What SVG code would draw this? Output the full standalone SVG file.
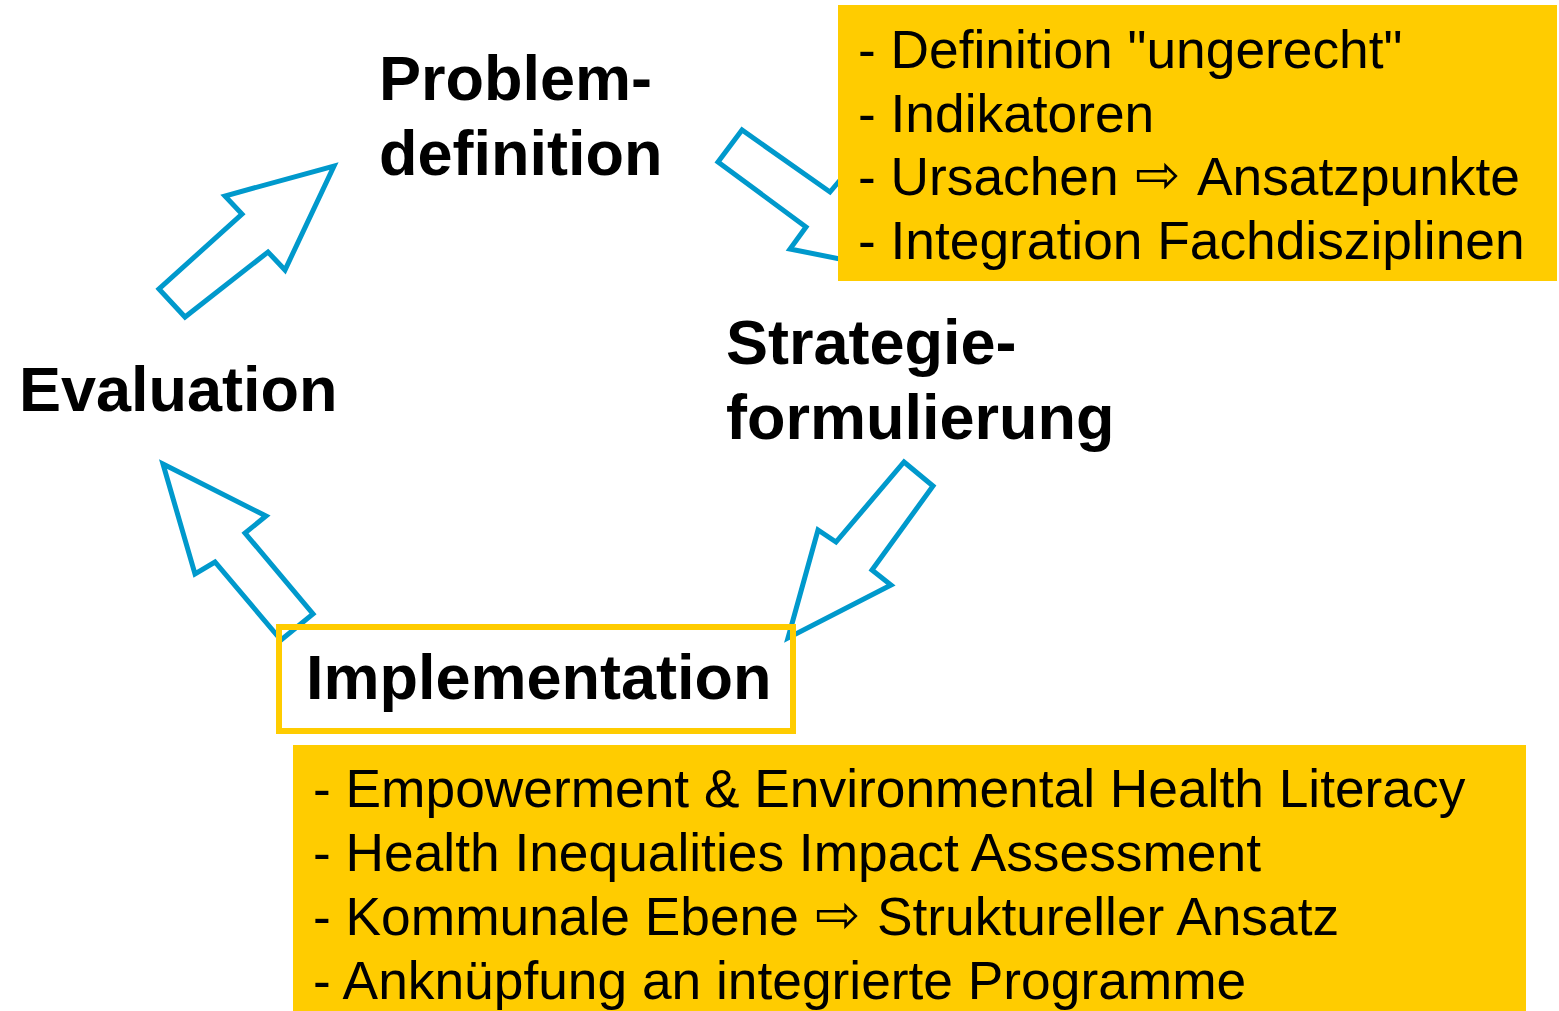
<svg xmlns="http://www.w3.org/2000/svg" width="1559" height="1011" viewBox="0 0 1559 1011">
<style>
.arrow{fill:#fff;stroke:#0099cc;stroke-width:5;stroke-linejoin:miter}
.lbl{font-family:"Liberation Sans",Arial,sans-serif;font-weight:bold;font-size:63px;fill:#000}
.note{fill:#ffcc00}
.nt{font-family:"Liberation Sans",Arial,sans-serif;font-size:53.3px;fill:#000}
.sym{font-family:"DejaVu Sans",sans-serif;font-size:54px}
</style>
<rect width="1559" height="1011" fill="#fff"/>
<g id="connectors">
<polygon class="arrow" points="742,130 718,162 806,227 790,249 905,272 852,166 830,192"/>
<polygon class="arrow" points="159,289 185,317 268,252 285,270 334,166 225,196 242,214"/>
<polygon class="arrow" points="904,462 933,486 872,570 891,585 788,638 818,530 836,542"/>
<polygon class="arrow" points="163,464 266,516 245,533 313,614 281,640 215,562 195,574"/>
</g>
<g id="problemdefinition">
<text class="lbl" x="379" y="100">Problem-</text>
<text class="lbl" x="379" y="175">definition</text>
</g>
<g id="strategieformulierung">
<text class="lbl" x="726" y="364">Strategie-</text>
<text class="lbl" x="726" y="439">formulierung</text>
</g>
<g id="evaluation">
<text class="lbl" x="19" y="411">Evaluation</text>
</g>
<g id="implementation">
<rect x="279" y="627" width="514" height="104" fill="none" stroke="#ffcc00" stroke-width="6"/>
<text class="lbl" x="306" y="699">Implementation</text>
</g>
<g id="note-top">
<rect class="note" x="838" y="5" width="719" height="276"/>
<text class="nt" x="858" y="68">- Definition "ungerecht"</text>
<text class="nt" x="858" y="132">- Indikatoren</text>
<text class="nt" y="195"><tspan x="858">- Ursachen</tspan><tspan class="sym" x="1135" y="193">⇨</tspan><tspan x="1197" y="195">Ansatzpunkte</tspan></text>
<text class="nt" x="858" y="259">- Integration Fachdisziplinen</text>
</g>
<g id="note-bottom">
<rect class="note" x="293" y="745" width="1233" height="266"/>
<text class="nt" x="313" y="807">- Empowerment &amp; Environmental Health Literacy</text>
<text class="nt" x="313" y="871">- Health Inequalities Impact Assessment</text>
<text class="nt" y="935"><tspan x="313">- Kommunale Ebene</tspan><tspan class="sym" x="815" y="933">⇨</tspan><tspan x="877" y="935">Struktureller Ansatz</tspan></text>
<text class="nt" x="313" y="999">- Anknüpfung an integrierte Programme</text>
</g>
</svg>
